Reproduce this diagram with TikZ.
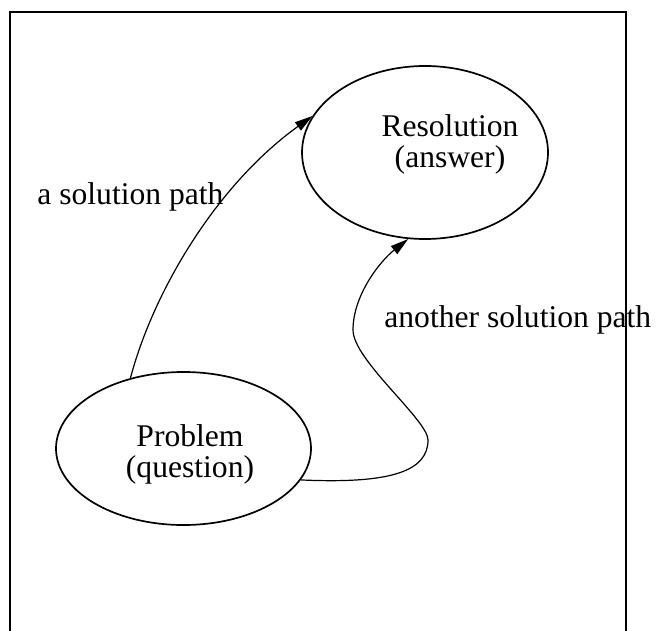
\documentclass[tikz,border=0pt]{standalone}
\usepackage{fontspec}
\setmainfont{Liberation Serif}
\usetikzlibrary{shapes.geometric}
\usetikzlibrary{arrows.meta}

\begin{document}
\begin{tikzpicture}[x=0.5pt,y=-0.5pt,
	state/.style={ellipse,draw,line width=0.85pt,inner sep=0pt},
	caption/.style={inner sep=0pt,font=\fontsize{15.8}{15.5}\selectfont},
	route/.style={-{Triangle[length=9pt,width=5pt]},line width=0.6pt}]
						\useasboundingbox (0,0) rectangle (656,630);
						\draw[line width=0.85pt] (10,640)--(10,12)--(626,12)--(626,640);
						\node[state,minimum width=127.5pt,minimum height=76.5pt] (problem) at (183.5,448.5) {};
						\node[state,minimum width=123pt,minimum height=86.5pt] (resolution) at (425,152.5) {};
						\node[caption,align=center,anchor=base] (problemtext) at (190,477) {Problem\\(question)};
						\node[caption,align=center,anchor=base] (resolutiontext) at (450,168) {Resolution\\(answer)};
						\node[caption,anchor=base west] (pathone) at (37,205) {a solution path};
						\node[caption,anchor=base west] (pathtwo) at (384,327) {another solution path};
						\draw[route] (problem.127) .. controls +(23,-87) and +(-96,69) .. (resolution.162);
						\draw[route] (problem.-15) .. controls +(88,4) and +(0,32) .. (428,440)
							.. controls +(0,-20) and +(0,30) .. (353,330)
							.. controls +(0,-35) and +(-28,22) .. (resolution.259);
					\end{tikzpicture}
\end{document}
